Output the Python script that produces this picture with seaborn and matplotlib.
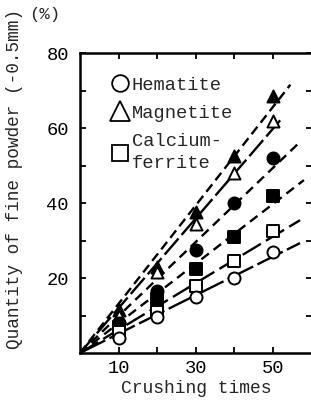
import numpy as np
import pandas as pd
import matplotlib
matplotlib.use('Agg')
import matplotlib.pyplot as plt
from matplotlib.lines import Line2D
import seaborn as sns

# Crushing times and fine powder quantity (%)
crush = [10, 20, 30, 40, 50]
hem_open = [4, 9.5, 15, 20, 27]
hem_fill = [8, 16.5, 27.5, 40, 52]
mag_open = [10, 21.5, 34.5, 48, 62]
mag_fill = [11.5, 23, 37.5, 52.5, 68.5]
cf_open = [5.5, 11, 18, 24.5, 32.5]
cf_fill = [7, 14.5, 22.5, 31, 42]

sns.set_style('ticks')
plt.rcParams['font.family'] = ['Liberation Mono', 'DejaVu Sans Mono']

fig = plt.figure(figsize=(3.11, 4.03), dpi=100)
ax = fig.add_axes([0.257, 0.124, 0.745, 0.744])

# marker, fill, series, dash pattern, where the fitted line stops
series = [
    ('^', 'black', mag_fill, (4, 2.2), 54.5),
    ('^', 'white', mag_open, (9, 2), 52),
    ('o', 'black', hem_fill, (4, 2.5), 56.5),
    ('s', 'black', cf_fill, (4, 2.5), 58),
    ('s', 'white', cf_open, (9, 2.5), 57),
    ('o', 'white', hem_open, (12, 2), 57),
]

for mk, fc, vals, dash, xend in series:
    x = np.array(crush, dtype=float)
    y = np.array(vals, dtype=float)
    k = (x * y).sum() / (x * x).sum()   # fit through origin
    xs = np.array([0, xend])
    ax.plot(xs, k * xs, color='black', lw=1.7, dashes=dash, zorder=2)
    df = pd.DataFrame({'x': crush, 'y': vals})
    sns.scatterplot(data=df, x='x', y='y', marker=mk, s=75, color=fc,
                    edgecolor='black', linewidth=1.4, ax=ax, zorder=3)

ax.set_xlim(0, 60)
ax.set_ylim(0, 80)
ax.set_xticks([10, 20, 30, 40, 50])
ax.set_xticklabels(['10', '', '30', '', '50'])
ax.set_yticks([10, 20, 30, 40, 50, 60, 70, 80])
ax.set_yticklabels(['', '20', '', '40', '', '60', '', '80'])
ax.tick_params(direction='in', length=4, width=1.3, labelsize=13.5,
               top=True, right=True, colors='black')
ax.tick_params(axis='y', pad=8)
ax.tick_params(axis='x', pad=5)
ax.spines['right'].set_visible(False)
for s in ['left', 'bottom', 'top']:
    ax.spines[s].set_linewidth(1.8)
    ax.spines[s].set_color('black')

ax.set_xlabel('Crushing times', fontsize=13, labelpad=2)
ax.set_ylabel('Quantity of fine powder (-0.5mm)', fontsize=12.8)
ax.yaxis.set_label_coords(-0.245, 0.58)
fig.text(0.095, 0.963, '(%)', fontsize=12.5, ha='left', va='center')

handles = [
    Line2D([], [], ls='none', marker='o', ms=12, mfc='white', mec='black', mew=1.3),
    Line2D([], [], ls='none', marker='^', ms=14, mfc='white', mec='black', mew=1.3),
    Line2D([], [], ls='none', marker='s', ms=12, mfc='white', mec='black', mew=1.3),
]
leg = ax.legend(handles, ['Hematite', 'Magnetite', 'Calcium-\nferrite'],
                loc='upper left', bbox_to_anchor=(0.09, 0.96), frameon=False,
                fontsize=13.5, handlelength=0.9, handletextpad=0.15,
                labelspacing=0.6, borderaxespad=0.2)
for t in leg.get_texts():
    t.set_linespacing(1.4)

fig.savefig('out.png', dpi=100)
